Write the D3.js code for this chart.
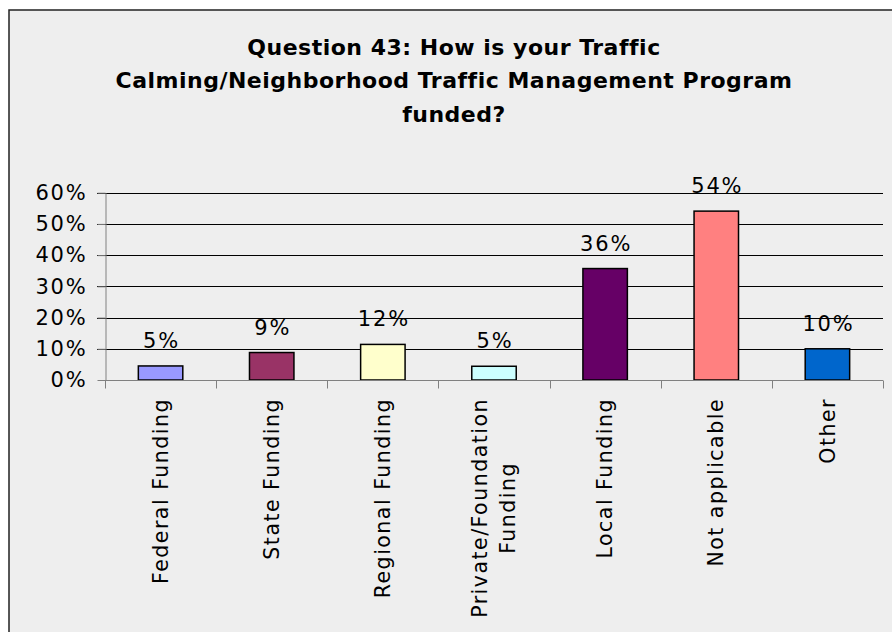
<!DOCTYPE html>
<html>
<head>
<meta charset="utf-8">
<script src="https://cdn.jsdelivr.net/npm/d3@7"></script>
<style>
  html, body { margin: 0; padding: 0; background: #ffffff; }
  svg { display: block; }
</style>
</head>
<body>
<svg id="chart" width="892" height="632"></svg>
<script>
const titleLines = ["Question 43: How is your Traffic", "Calming/Neighborhood Traffic Management Program", "funded?"];
const categories = ["Federal Funding", "State Funding", "Regional Funding", "Private/Foundation Funding", "Local Funding", "Not applicable", "Other"];
const categoryLines = [["Federal Funding"], ["State Funding"], ["Regional Funding"], ["Private/Foundation", "Funding"], ["Local Funding"], ["Not applicable"], ["Other"]];
const values = [0.045, 0.088, 0.114, 0.044, 0.357, 0.541, 0.10];
const valueLabels = ["5%", "9%", "12%", "5%", "36%", "54%", "10%"];
const barColors = ["#9999FF", "#993366", "#FFFFCC", "#CCFFFF", "#660066", "#FF8080", "#0066CC"];
const yTicks = [0, 0.1, 0.2, 0.3, 0.4, 0.5, 0.6];

const svg = d3.select("#chart");
const font = "'DejaVu Sans', Verdana, sans-serif";

// chart area background + border (cut off at right and bottom)
svg.append("rect").attr("x", 9).attr("y", 10).attr("width", 900).attr("height", 640)
  .attr("fill", "#EEEEEE").attr("stroke", "#222").attr("stroke-width", 1.5);

// title
svg.append("g").selectAll("text").data(titleLines).join("text")
  .attr("x", 454).attr("y", (d, i) => 55 + i * 33.3)
  .attr("text-anchor", "middle")
  .attr("font-family", font).attr("font-weight", "bold").attr("font-size", 22)
  .attr("letter-spacing", 0.5)
  .attr("fill", "#000").text(d => d);

const x = d3.scaleBand().domain(categories).range([105, 883]).paddingInner(0.6).paddingOuter(0.3);
const y = d3.scaleLinear().domain([0, 0.6]).range([380, 192.7]);

// gridlines
svg.append("g").selectAll("line").data(yTicks.slice(1)).join("line")
  .attr("x1", 97).attr("x2", 883)
  .attr("y1", d => Math.round(y(d)) + 0.5).attr("y2", d => Math.round(y(d)) + 0.5)
  .attr("stroke", "#000").attr("stroke-width", 1);

// y axis
const yAxis = svg.append("g").attr("transform", "translate(105.5,0)")
  .call(d3.axisLeft(y).tickValues(yTicks).tickFormat(d3.format(".0%")).tickSizeInner(8).tickSizeOuter(0).tickPadding(10));
yAxis.select(".domain").attr("stroke", "#808080");
yAxis.selectAll(".tick line").attr("stroke", "#808080");
yAxis.selectAll(".tick text").attr("font-family", font).attr("font-size", 21)
  .attr("letter-spacing", 1.8).attr("fill", "#000");

// bars
svg.append("g").selectAll("rect").data(values).join("rect")
  .attr("x", (d, i) => x(categories[i]))
  .attr("y", d => y(d))
  .attr("width", x.bandwidth())
  .attr("height", d => y(0) - y(d))
  .attr("fill", (d, i) => barColors[i])
  .attr("stroke", "#000").attr("stroke-width", 1.5);

// x axis
const xAxisG = svg.append("g").attr("transform", "translate(0,380.5)");
xAxisG.append("line").attr("x1", 105).attr("x2", 883).attr("y1", 0).attr("y2", 0).attr("stroke", "#808080");
const boundaries = categories.map((c, i) => x(c) - x.step() * x.paddingInner() / 2).concat([883]);
xAxisG.selectAll("line.tk").data(boundaries).join("line").attr("class", "tk")
  .attr("x1", d => Math.round(d) + 0.5).attr("x2", d => Math.round(d) + 0.5)
  .attr("y1", 0).attr("y2", 8).attr("stroke", "#808080");

// value labels
svg.append("g").selectAll("text").data(values).join("text")
  .attr("x", (d, i) => x(categories[i]) + x.bandwidth() / 2 + 1)
  .attr("y", d => y(d) - 18)
  .attr("text-anchor", "middle")
  .attr("font-family", font).attr("font-size", 21).attr("letter-spacing", 1.8).attr("fill", "#000")
  .text((d, i) => valueLabels[i]);

// category labels (rotated)
const catG = svg.append("g");
categories.forEach((c, i) => {
  const cx = x(c) + x.bandwidth() / 2;
  const lines = categoryLines[i];
  const g = catG.append("g");
  const texts = lines.map((ln, j) => g.append("text")
    .attr("font-family", font).attr("font-size", 20.5).attr("letter-spacing", 1.5).attr("fill", "#000")
    .attr("text-anchor", "middle").text(ln));
  const maxLen = d3.max(texts, t => t.node().getComputedTextLength());
  const centerY = 398 + maxLen / 2;
  const n = lines.length;
  texts.forEach((t, j) => {
    const off = (j - (n - 1) / 2) * 28;
    const px = cx + off;
    t.attr("transform", `translate(${px},${centerY}) rotate(-90)`).attr("dy", "0.35em");
  });
});
</script>
</body>
</html>
